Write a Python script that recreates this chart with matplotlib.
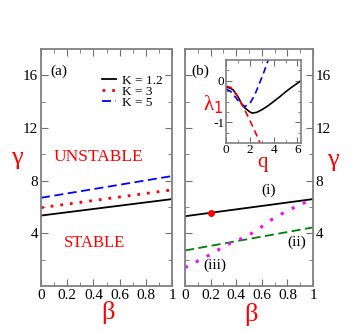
import numpy as np
import matplotlib.pyplot as plt

plt.rcParams['font.family'] = ['Liberation Serif', 'DejaVu Serif']

beta = [0.0, 1.0]

# panel (a): critical gamma vs beta for three K
K_labels = ['K = 1.2', 'K = 3', 'K = 5']
gamma_k12 = [5.35, 6.6]
gamma_k3 = [5.95, 7.3]
gamma_k5 = [6.7, 8.35]

# panel (b)
gamma_i = [5.3, 6.6]
gamma_ii = [2.7, 4.45]
beta_iii = [0.0, 0.2, 0.33, 0.48, 0.57, 0.67, 0.76, 0.85, 0.95, 1.0]
gamma_iii = [1.4, 2.4, 3.15, 3.75, 4.3, 5.0, 5.5, 5.95, 6.4, 6.6]
dot_beta, dot_gamma = 0.2, 5.58

# inset: lambda_1 vs q
q_black = [0, 0.3, 0.6, 1.0, 1.3, 1.6, 2.0, 2.2, 2.6, 3.0, 3.5, 4.0, 4.5, 5.0, 5.5, 6.0, 6.3]
lam_black = [-0.16, -0.17, -0.22, -0.38, -0.55, -0.66, -0.75, -0.78, -0.76, -0.7, -0.61, -0.5, -0.39, -0.27, -0.16, -0.06, 0.0]
q_blue = [0, 0.4, 0.8, 1.2, 1.6, 2.0, 2.4, 2.8, 3.2, 3.55]
lam_blue = [-0.2, -0.26, -0.4, -0.55, -0.62, -0.55, -0.35, -0.07, 0.22, 0.5]
q_red = [0, 0.4, 0.8, 1.2, 1.6, 2.0, 2.4, 2.86]
lam_red = [-0.13, -0.16, -0.3, -0.5, -0.72, -0.95, -1.2, -1.5]

W, H = 360, 332
fig = plt.figure(figsize=(W / 100, H / 100), dpi=100)

def ax_rect(x0, y0, x1, y1):
    return [x0 / W, 1 - y1 / H, (x1 - x0) / W, (y1 - y0) / H]

def label(x, y, s, size=19):
    fig.text(x / W, 1 - y / H, s, color='red', fontsize=size, ha='center', va='center')

ax1 = fig.add_axes(ax_rect(41, 49, 172, 286))
ax2 = fig.add_axes(ax_rect(185, 49, 313, 286))

def style(ax, right=False):
    ax.set_xlim(0, 1)
    ax.set_ylim(0, 18)
    ax.set_xticks([0, 0.2, 0.4, 0.6, 0.8, 1.0])
    ax.set_xticklabels(['0', '0.2', '0.4', '0.6', '0.8', '1'])
    ax.set_xticks(np.arange(0.1, 1.0, 0.2), minor=True)
    ax.set_yticks([4, 8, 12, 16])
    ax.set_yticks([2, 6, 10, 14, 18], minor=True)
    ax.tick_params(which='both', direction='in', top=True, right=True,
                   labelsize=11, color='#707070', pad=2)
    ax.tick_params(which='major', length=5)
    ax.tick_params(which='minor', length=3)
    if right:
        ax.tick_params(labelleft=False, labelright=True)
    for s in ax.spines.values():
        s.set_color('#808080')
        s.set_linewidth(1.3)

style(ax1)
style(ax2, right=True)

ax1.plot(beta, gamma_k12, color='black', lw=1.3, label=K_labels[0])
ax1.plot(beta, gamma_k3, color='red', lw=2, ls=(0, (1, 2.5)), label=K_labels[1])
ax1.plot(beta, gamma_k5, color='blue', lw=1.3, ls=(0, (5, 2.5)), label=K_labels[2])
ax1.legend(loc='upper right', frameon=False, fontsize=9.5, handlelength=1.0,
           handletextpad=0.5, labelspacing=-0.1, borderaxespad=0.3,
           bbox_to_anchor=(1.0, 0.93))
ax1.text(0.07, 16.3, '(a)', fontsize=11, va='center')
ax1.text(0.44, 9.8, 'UNSTABLE', color='red', fontsize=12.5, ha='center', va='center')
ax1.text(0.41, 3.25, 'STABLE', color='red', fontsize=12, ha='center', va='center')

ax2.plot(beta, gamma_i, color='black', lw=1.3)
ax2.plot(dot_beta, dot_gamma, 'o', color='red', ms=4)
ax2.plot(beta, gamma_ii, color='green', lw=1.3, ls=(0, (5, 2.5)))
ax2.plot(beta_iii, gamma_iii, color='magenta', lw=2.2, ls=(0, (1, 3)))
ax2.text(0.05, 16.3, '(b)', fontsize=11, va='center')
ax2.text(0.65, 7.3, '(i)', fontsize=11, ha='center', va='center')
ax2.text(0.87, 3.3, '(ii)', fontsize=11, ha='center', va='center')
ax2.text(0.23, 1.6, '(iii)', fontsize=11, ha='center', va='center')

label(17, 158, 'γ')
label(333, 160, 'γ')
label(108, 313, 'β')
label(251, 314, 'β')

ins = fig.add_axes(ax_rect(226, 60, 301, 143))
ins.plot(q_black, lam_black, color='black', lw=1.2)
ins.plot(q_blue, lam_blue, color='blue', lw=1.2, ls=(0, (4, 2.5)))
ins.plot(q_red, lam_red, color='red', lw=1.2, ls=(0, (4, 2.5)))
ins.set_xlim(0, 6.3)
ins.set_ylim(-1.5, 0.5)
ins.set_xticks([0, 2, 4, 6])
ins.set_xticks([1, 3, 5], minor=True)
ins.set_yticks([-1, 0])
ins.set_yticks([-1.25, -0.75, -0.5, -0.25, 0.25], minor=True)
ins.set_yticklabels(['-1', '0'])
ins.tick_params(which='both', direction='in', top=True, right=True,
                labelsize=9.5, color='#707070', pad=1)
ins.tick_params(which='major', length=4)
ins.tick_params(which='minor', length=2)
for s in ins.spines.values():
    s.set_color('#808080')
    s.set_linewidth(1.2)

label(213, 105, 'λ$_1$', size=15)
label(262, 162, 'q', size=15)

fig.savefig('out.png', dpi=100)
